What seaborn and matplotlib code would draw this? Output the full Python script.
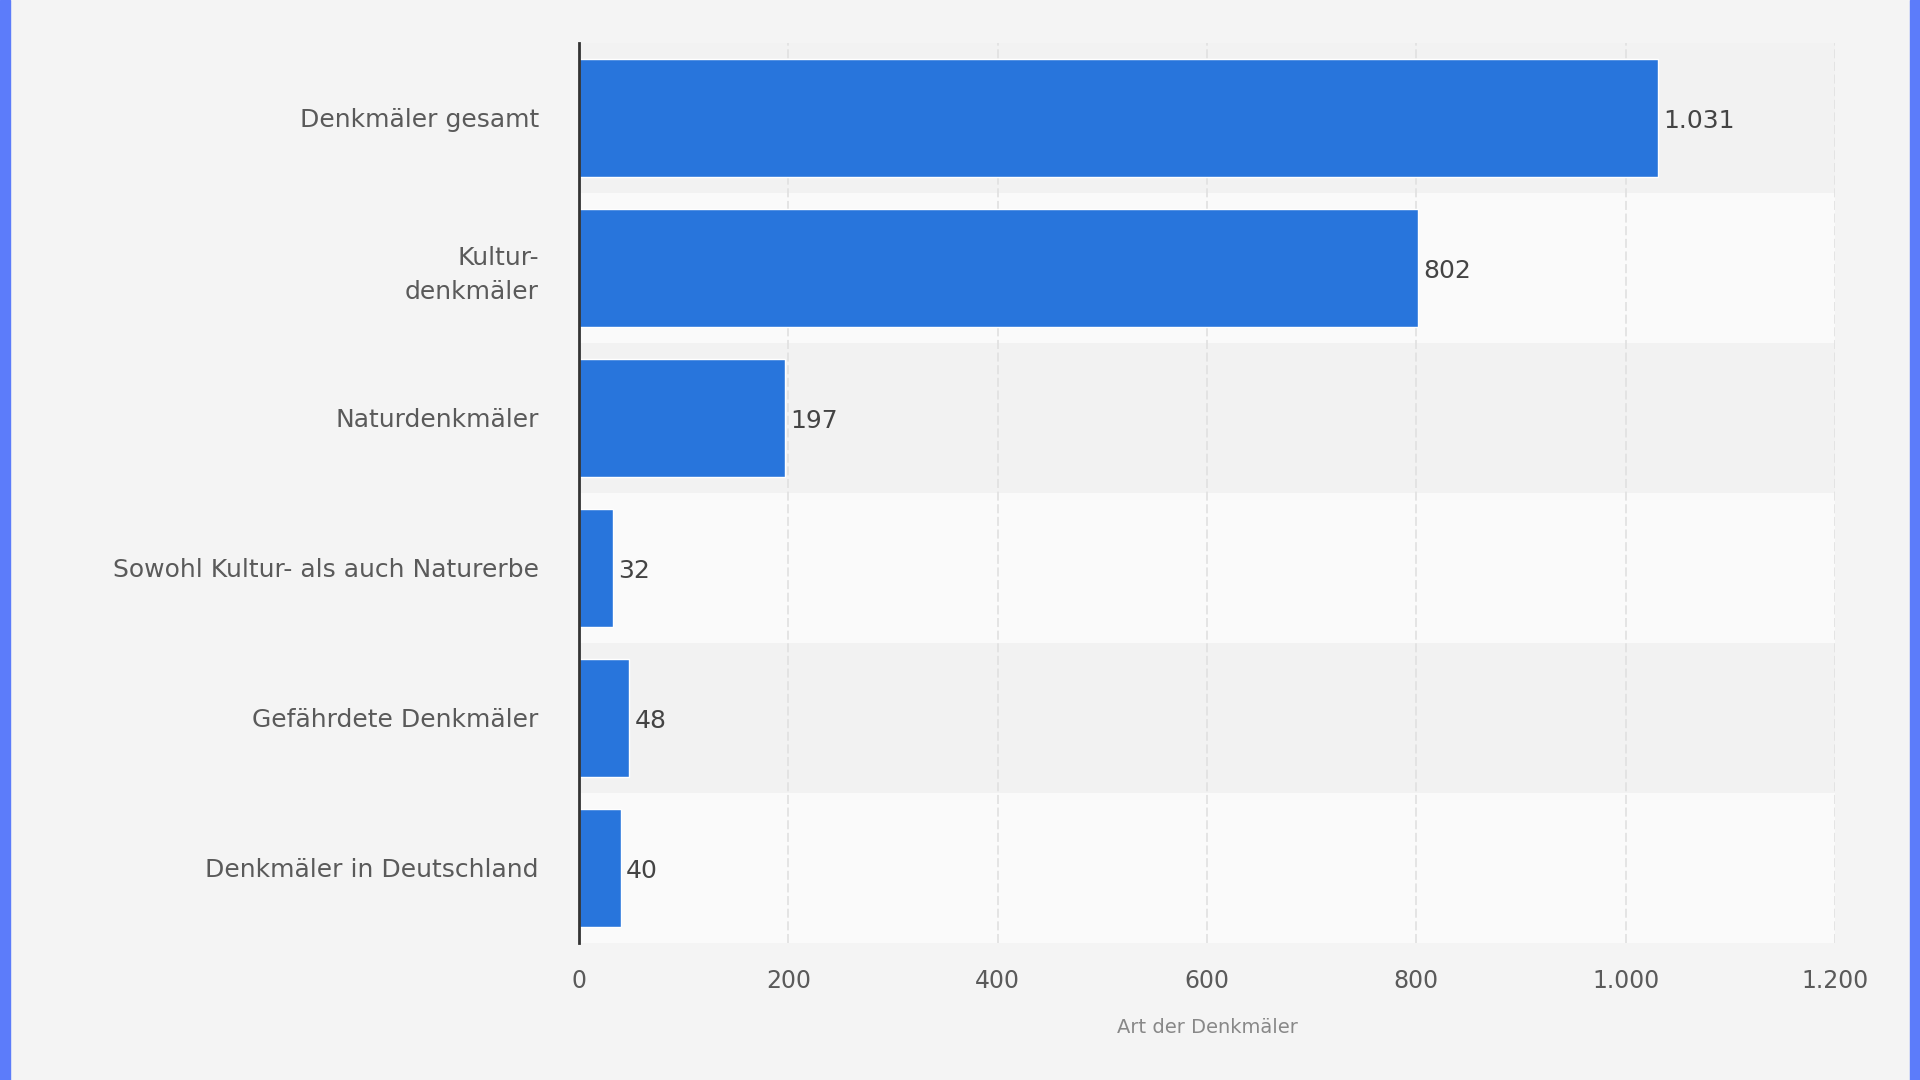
import matplotlib
matplotlib.use("Agg")
import matplotlib.pyplot as plt
import seaborn as sns
import pandas as pd
from matplotlib.patches import Rectangle

# data
categories = ["Denkmäler gesamt", "Kultur-\ndenkmäler", "Naturdenkmäler",
              "Sowohl Kultur- als auch Naturerbe", "Gefährdete Denkmäler",
              "Denkmäler in Deutschland"]
values = [1031, 802, 197, 32, 48, 40]
xticks = [0, 200, 400, 600, 800, 1000, 1200]
xlabel = "Art der Denkmäler"

df = pd.DataFrame({"kategorie": categories, "anzahl": values})

sns.set_theme(style="white")
plt.rcParams["font.family"] = ["DejaVu Sans"]

bg = "#f4f4f4"
fig = plt.figure(figsize=(19.2, 10.8), dpi=100, facecolor=bg)
ax = fig.add_axes([0.3016, 0.1269, 0.6541, 0.8333])
ax.set_facecolor(bg)

# alternating row bands
for i in range(len(categories)):
    ax.axhspan(i - 0.5, i + 0.5, color="#f2f2f2" if i % 2 == 0 else "#fafafa", zorder=0, lw=0)

sns.barplot(data=df, x="anzahl", y="kategorie", orient="h", color="#2875dc",
            saturation=1, width=0.79, ax=ax, zorder=3)

for i, v in enumerate(values):
    ax.text(v + 5, i + 0.02, f"{v:,}".replace(",", "."), va="center", ha="left",
            fontsize=18, color="#444444", zorder=4)

ax.set_xlim(0, 1200)
ax.set_ylim(len(categories) - 0.5, -0.5)
ax.set_xticks(xticks)
ax.set_xticklabels([f"{t:,}".replace(",", ".") for t in xticks])
ax.grid(axis="x", color="#e2e2e2", linestyle=(0, (5, 2)), lw=1.3, zorder=1)
ax.grid(axis="y", visible=False)
ax.tick_params(axis="x", length=0, pad=19, labelsize=17, labelcolor="#5a5a5a")
ax.tick_params(axis="y", length=0, pad=29, labelsize=18, labelcolor="#5a5a5a")
for lab in ax.get_yticklabels():
    lab.set_linespacing(1.5)
ax.set_ylabel("")
ax.set_xlabel(xlabel, fontsize=14, color="#888888", labelpad=18)
for s in ["top", "right", "bottom"]:
    ax.spines[s].set_visible(False)
ax.spines["left"].set_color("#333333")
ax.spines["left"].set_linewidth(2)
ax.spines["left"].set_zorder(5)

# blue side borders
fig.patches.append(Rectangle((0, 0), 10 / 1920, 1, transform=fig.transFigure, color="#5c7cfa"))
fig.patches.append(Rectangle((1 - 10 / 1920, 0), 10 / 1920, 1, transform=fig.transFigure, color="#5c7cfa"))

fig.savefig("out.png", dpi=100, facecolor=bg)
